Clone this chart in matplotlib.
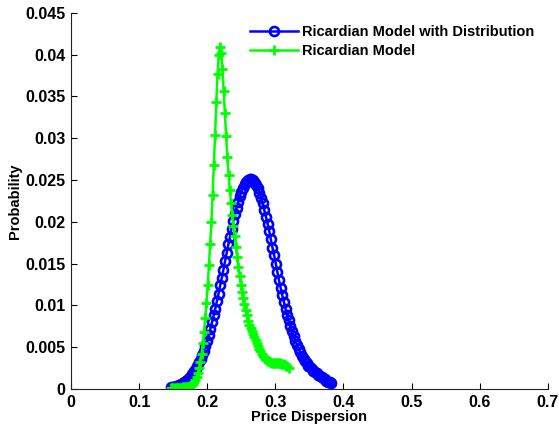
import numpy as np
from matplotlib import pyplot as plt

plt.rcParams['font.family'] = ['Liberation Sans', 'DejaVu Sans']
plt.rcParams['font.weight'] = 'bold'
font_size = 10.5
tick_size = 11.5

# Ricardian Model with Distribution (blue, circles)
x_dist = np.linspace(0.147, 0.3822, 99)
y_dist = [0.0003, 0.0003, 0.0003, 0.0004, 0.0004, 0.0005, 0.0006, 0.0007, 0.0008, 0.0010,
          0.0011, 0.0013, 0.0016, 0.0018, 0.0021, 0.0024, 0.0028, 0.0032, 0.0036, 0.0041,
          0.0046, 0.0052, 0.0058, 0.0065, 0.0072, 0.0080, 0.0088, 0.0096, 0.0105, 0.0114,
          0.0124, 0.0133, 0.0143, 0.0153, 0.0163, 0.0173, 0.0182, 0.0192, 0.0201, 0.0209,
          0.0217, 0.0224, 0.0231, 0.0236, 0.0241, 0.0245, 0.0248, 0.0250, 0.0251, 0.0251,
          0.0250, 0.0247, 0.0244, 0.0240, 0.0235, 0.0229, 0.0222, 0.0214, 0.0206, 0.0198,
          0.0189, 0.0179, 0.0169, 0.0160, 0.0150, 0.0140, 0.0130, 0.0121, 0.0112, 0.0104,
          0.0096, 0.0089, 0.0082, 0.0075, 0.0069, 0.0064, 0.0058, 0.0053, 0.0048, 0.0044,
          0.0040, 0.0036, 0.0033, 0.0031, 0.0028, 0.0026, 0.0024, 0.0022, 0.0020, 0.0019,
          0.0017, 0.0016, 0.0014, 0.0013, 0.0012, 0.0010, 0.0009, 0.0008, 0.0007]

# Ricardian Model (green, plus)
x_ric = np.linspace(0.1467, 0.3195, 97)
y_ric = [0.0001, 0.0001, 0.0001, 0.0001, 0.0001, 0.0001, 0.0001, 0.0001, 0.0001, 0.0001,
         0.0002, 0.0002, 0.0002, 0.0002, 0.0003, 0.0003, 0.0004, 0.0005, 0.0006, 0.0008,
         0.0011, 0.0014, 0.0019, 0.0025, 0.0032, 0.0042, 0.0055, 0.0068, 0.0085, 0.0103,
         0.0124, 0.0148, 0.0174, 0.0200, 0.0232, 0.0268, 0.0304, 0.0343, 0.0377, 0.0400,
         0.0409, 0.0402, 0.0383, 0.0357, 0.0330, 0.0303, 0.0278, 0.0256, 0.0238, 0.0222,
         0.0208, 0.0195, 0.0183, 0.0170, 0.0158, 0.0146, 0.0135, 0.0125, 0.0116, 0.0109,
         0.0102, 0.0095, 0.0088, 0.0081, 0.0077, 0.0073, 0.0069, 0.0066, 0.0062, 0.0059,
         0.0055, 0.0051, 0.0048, 0.0045, 0.0042, 0.0040, 0.0038, 0.0036, 0.0035, 0.0034,
         0.0033, 0.0032, 0.0031, 0.0031, 0.0031, 0.0031, 0.0031, 0.0031, 0.0031, 0.0031,
         0.0030, 0.0030, 0.0030, 0.0029, 0.0028, 0.0027, 0.0025]

xticks = [0, 0.1, 0.2, 0.3, 0.4, 0.5, 0.6, 0.7]
xtick_labels = ['0', '0.1', '0.2', '0.3', '0.4', '0.5', '0.6', '0.7']
yticks = [0, 0.005, 0.01, 0.015, 0.02, 0.025, 0.03, 0.035, 0.04, 0.045]
ytick_labels = ['0', '0.005', '0.01', '0.015', '0.02', '0.025', '0.03', '0.035', '0.04', '0.045']

fig = plt.figure(figsize=(5.59, 4.28), dpi=100)
ax = fig.add_axes([0.127, 0.091, 0.853, 0.879])

ax.plot(x_dist, y_dist, color='#0000ff', linewidth=1.8, marker='o', markersize=6.5,
        markerfacecolor='none', markeredgewidth=1.9, label='Ricardian Model with Distribution')
ax.plot(x_ric, y_ric, color='#00ff00', linewidth=1.8, marker='+', markersize=7,
        markeredgewidth=2.0, label='Ricardian Model')

ax.set_xlim(0, 0.7)
ax.set_ylim(0, 0.045)
ax.set_xticks(xticks)
ax.set_xticklabels(xtick_labels)
ax.set_yticks(yticks)
ax.set_yticklabels(ytick_labels)
ax.tick_params(direction='in', length=4, width=0.8, labelsize=tick_size, pad=4, colors='black')
for side in ['top', 'right']:
    ax.spines[side].set_visible(False)
for side in ['left', 'bottom']:
    ax.spines[side].set_color('#222222')
    ax.spines[side].set_linewidth(0.8)

ax.set_xlabel('Price Dispersion', fontsize=font_size, fontweight='bold', labelpad=0)
ax.set_ylabel('Probability', fontsize=font_size, fontweight='bold', labelpad=2)

ax.legend(loc='upper right', bbox_to_anchor=(0.99, 0.99), frameon=False, fontsize=font_size,
          numpoints=1, handlelength=3.3, handletextpad=0.3, labelspacing=0.35,
          borderaxespad=0.2)

plt.savefig('out.png', dpi=100)
plt.close('all')
